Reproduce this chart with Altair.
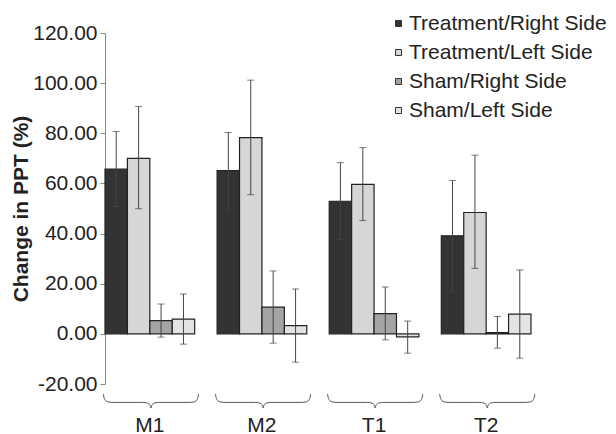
import altair as alt
import pandas as pd

groups = ["M1", "M2", "T1", "T2"]
series = ["Treatment/Right Side", "Treatment/Left Side", "Sham/Right Side", "Sham/Left Side"]

tr_mean = [65.7, 65.1, 52.9, 39.1]
tl_mean = [70.0, 78.3, 59.6, 48.4]
sr_mean = [5.3, 10.7, 8.1, 0.5]
sl_mean = [5.9, 3.3, -1.2, 7.9]

tr_lo = [50.8, 49.5, 37.6, 16.7]
tl_lo = [49.9, 55.5, 45.2, 26.1]
sr_lo = [-1.3, -3.7, -2.4, -5.7]
sl_lo = [-4.1, -11.3, -7.7, -9.7]

tr_hi = [80.7, 80.3, 68.3, 61.2]
tl_hi = [90.7, 101.2, 74.3, 71.3]
sr_hi = [11.9, 25.1, 18.7, 6.9]
sl_hi = [15.9, 17.9, 5.1, 25.5]

y_ticks = [-20, 0, 20, 40, 60, 80, 100, 120]

colors = ["#333333", "#d6d6d6", "#a4a4a4", "#e3e3e3"]

means = [tr_mean, tl_mean, sr_mean, sl_mean]
lows = [tr_lo, tl_lo, sr_lo, sl_lo]
highs = [tr_hi, tl_hi, sr_hi, sl_hi]

rows = []
for si, s in enumerate(series):
    for gi, g in enumerate(groups):
        rows.append(dict(group=g, series=s, value=means[si][gi], lo=lows[si][gi], hi=highs[si][gi]))
df = pd.DataFrame(rows)

# decorative curly-brace shape (normalized), one per group
brace_t = [0.0, 0.006, 0.016, 0.032, 0.06, 0.1, 0.42, 0.455, 0.478, 0.492, 0.5,
           0.508, 0.522, 0.545, 0.58, 0.9, 0.94, 0.968, 0.984, 0.994, 1.0]
brace_v = [0.0, 0.22, 0.4, 0.52, 0.58, 0.6, 0.6, 0.63, 0.7, 0.82, 1.0,
           0.82, 0.7, 0.63, 0.6, 0.6, 0.58, 0.52, 0.4, 0.22, 0.0]
brows = []
for gi, g in enumerate(groups):
    left = gi - 0.015
    span = 0.85
    for t, v in zip(brace_t, brace_v):
        brows.append(dict(group=g, bx=left + t * span, bv=v))
bdf = pd.DataFrame(brows)

x_enc = alt.X(
    "group:N", sort=groups,
    scale=alt.Scale(paddingInner=0.2, paddingOuter=0),
    axis=alt.Axis(title=None, domain=False, ticks=False, labelAngle=0,
                  labelFontSize=21, labelPadding=30, labelColor="#222"),
)
xo_enc = alt.XOffset("series:N", sort=series, scale=alt.Scale(paddingInner=0, paddingOuter=0))
yscale = alt.Scale(domain=[-20, 120], nice=False, zero=False)

bars = alt.Chart(df).mark_bar(stroke="#222222", strokeWidth=1.2).encode(
    x=x_enc,
    xOffset=xo_enc,
    y=alt.Y("value:Q", scale=yscale,
            axis=alt.Axis(values=y_ticks,
                          labelExpr="(datum.value < 0 ? '-' : '') + format(abs(datum.value), '.2f')",
                          title="Change in PPT (%)",
                          titleFontSize=21, titleFontWeight="bold", titleColor="#222",
                          titlePadding=1, labelFontSize=21, labelColor="#222",
                          labelPadding=3, tickSize=5, tickColor="#888",
                          domainColor="#888", grid=False)),
    fill=alt.Fill("series:N", sort=series,
                  scale=alt.Scale(domain=series, range=colors),
                  legend=alt.Legend(title=None, orient="none", legendX=283, legendY=-20,
                                    symbolType="square", symbolSize=36,
                                    symbolStrokeColor="#333", symbolStrokeWidth=1,
                                    labelFontSize=21, labelColor="#222", labelLimit=0,
                                    rowPadding=7, labelOffset=0)),
)

rules = alt.Chart(df).mark_rule(color="#444", strokeWidth=1).encode(
    x=x_enc, xOffset=xo_enc,
    y=alt.Y("lo:Q", scale=yscale), y2="hi:Q",
)
cap_hi = alt.Chart(df).mark_tick(color="#444", thickness=1, size=7).encode(
    x=x_enc, xOffset=xo_enc, y=alt.Y("hi:Q", scale=yscale),
)
cap_lo = alt.Chart(df).mark_tick(color="#444", thickness=1, size=7).encode(
    x=x_enc, xOffset=xo_enc, y=alt.Y("lo:Q", scale=yscale),
)

inner = alt.layer(bars, rules, cap_hi, cap_lo)

brace = alt.Chart(bdf).mark_line(color="#555", strokeWidth=1, interpolate="monotone").encode(
    x=alt.X("bx:Q", scale=alt.Scale(domain=[0, 3.8], nice=False, zero=False), axis=None),
    y=alt.Y("bv:Q", scale=alt.Scale(domain=[0, 1], range=[361, 375]), axis=None),
    detail="group:N",
)

chart = alt.layer(inner, brace).resolve_scale(x="independent", y="independent").properties(
    width=426, height=351,
    autosize=alt.AutoSizeParams(type="none"),
    padding={"left": 97, "top": 25, "right": 77, "bottom": 50},
).configure(font="Liberation Sans").configure_view(stroke=None)

chart.save("out.html", embed_options={"renderer": "svg", "actions": False})
